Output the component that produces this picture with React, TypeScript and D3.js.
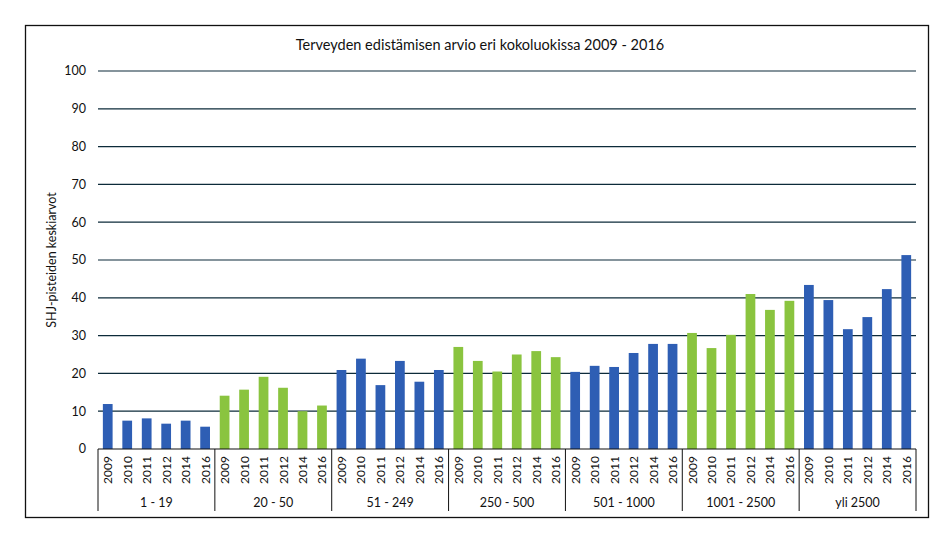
import React from "react";
import * as d3 from "d3";

const groups = ["1 - 19", "20 - 50", "51 - 249", "250 - 500", "501 - 1000", "1001 - 2500", "yli 2500"];
const years = ["2009", "2010", "2011", "2012", "2014", "2016"];
const values: number[][] = [
  [11.9, 7.5, 8.1, 6.7, 7.5, 5.9],
  [14.1, 15.7, 19.1, 16.2, 10.0, 11.5],
  [20.9, 23.9, 16.9, 23.3, 17.8, 20.9],
  [27.0, 23.3, 20.5, 25.0, 25.9, 24.3],
  [20.4, 22.0, 21.7, 25.4, 27.8, 27.8],
  [30.7, 26.7, 30.2, 41.0, 36.8, 39.2],
  [43.4, 39.4, 31.7, 34.9, 42.3, 51.3],
];
const yTicks = [0, 10, 20, 30, 40, 50, 60, 70, 80, 90, 100];
const groupColors = ["#2E5EB4", "#8AC43F"];
const title = "Terveyden edistämisen arvio eri kokoluokissa 2009 - 2016";
const yLabel = "SHJ-pisteiden keskiarvot";

export default function App() {
  const W = 949, H = 537;
  const left = 98, right = 916, top = 71, bottom = 449;
  const font = "Lato, 'Open Sans', sans-serif";
  const keys = groups.flatMap((g, gi) => years.map((y) => `${gi}|${y}`));
  const x = d3.scaleBand<string>().domain(keys).range([left, right]).paddingInner(0.5).paddingOuter(0.25);
  const y = d3.scaleLinear().domain([0, 100]).range([bottom, top]);
  const groupW = (right - left) / groups.length;
  const sepBottom = 511;

  return (
    <svg width={W} height={H} style={{ position: "absolute", left: 0, top: 0, background: "#fff" }}>
      <rect x={0} y={0} width={W} height={H} fill="#fff" />
      <rect x={25.5} y={25.5} width={903} height={492} fill="#fff" stroke="#111" strokeWidth={1.3} />
      <text x={(left + right) / 2 - 27} y={50} textAnchor="middle" fontFamily={font} fontSize={14.5} fill="#111">
        {title}
      </text>
      {yTicks.map((t) => (
        <g key={t}>
          {t > 0 && (
            <line x1={left} x2={right} y1={y(t)} y2={y(t)} stroke="#0D2B3A" strokeWidth={1.2} />
          )}
          <text x={86} y={y(t)} dy="0.35em" textAnchor="end" fontFamily={font} fontSize={12.5} fill="#111">
            {t}
          </text>
        </g>
      ))}
      <text
        transform={`translate(56,${(top + bottom) / 2}) rotate(-90)`}
        textAnchor="middle"
        fontFamily={font}
        fontSize={12.5}
        fill="#111"
      >
        {yLabel}
      </text>
      {values.map((row, gi) =>
        row.map((v, yi) => {
          const k = `${gi}|${years[yi]}`;
          return (
            <rect
              key={k}
              x={x(k)}
              y={y(v)}
              width={x.bandwidth()}
              height={y(0) - y(v)}
              fill={groupColors[gi % 2]}
            />
          );
        })
      )}
      <line x1={left} x2={right} y1={bottom} y2={bottom} stroke="#111" strokeWidth={1.2} />
      {d3.range(groups.length + 1).map((i) => (
        <line
          key={i}
          x1={left + i * groupW}
          x2={left + i * groupW}
          y1={bottom}
          y2={sepBottom}
          stroke="#111"
          strokeWidth={1}
        />
      ))}
      {keys.map((k) => {
        const cx = (x(k) as number) + x.bandwidth() / 2;
        const yr = k.split("|")[1];
        return (
          <text
            key={"l" + k}
            transform={`translate(${cx + 4.5},${470}) rotate(-90)`}
            textAnchor="middle"
            fontFamily={font}
            fontSize={12}
            fill="#111"
          >
            {yr}
          </text>
        );
      })}
      {groups.map((g, gi) => (
        <text
          key={g}
          x={left + (gi + 0.5) * groupW}
          y={507}
          textAnchor="middle"
          fontFamily={font}
          fontSize={12.5}
          fill="#111"
        >
          {g}
        </text>
      ))}
    </svg>
  );
}
